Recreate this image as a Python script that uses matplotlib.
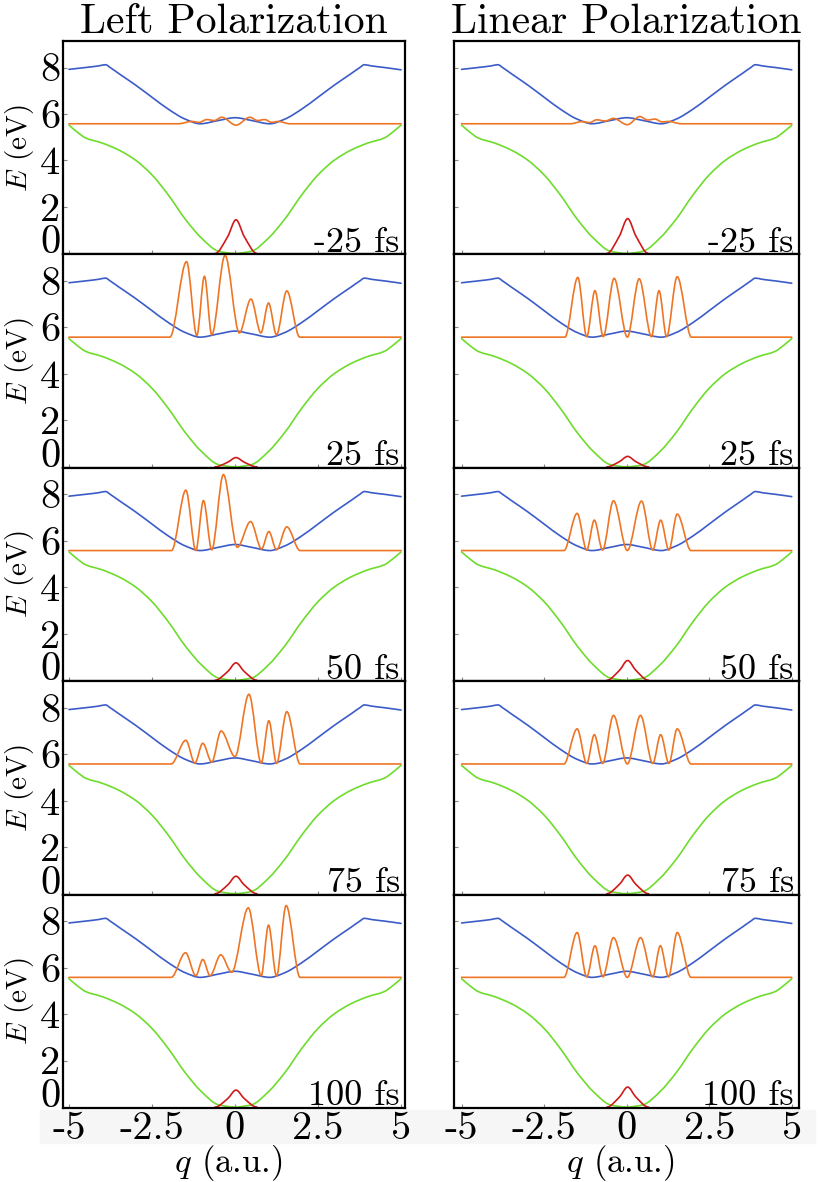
import numpy as np
import matplotlib
matplotlib.use('Agg')
import matplotlib.pyplot as plt
from matplotlib.path import Path
from matplotlib.patches import PathPatch, Rectangle

plt.rcParams['font.family'] = ['cmr10', 'DejaVu Serif']
plt.rcParams['mathtext.fontset'] = 'cm'
plt.rcParams['axes.formatter.use_mathtext'] = True

# potential curves (same in every panel)
green_q = [-5, -4.75, -4.5, -4, -3.5, -3, -2.5, -2, -1.5, -1, -0.5, 0,
           0.5, 1, 1.5, 2, 2.5, 3, 3.5, 4, 4.5, 4.75, 5]
green_E = [5.52, 5.22, 4.97, 4.75, 4.45, 4.02, 3.38, 2.5, 1.48, 0.65, 0.1, 0.0,
           0.1, 0.65, 1.48, 2.5, 3.38, 4.02, 4.45, 4.75, 4.97, 5.22, 5.52]
blue_q = [-5, -4.5, -4.1, -3.9, -3.75, -3.5, -3, -2.5, -2, -1.5, -1.05, -0.5, 0,
          0.5, 1.05, 1.5, 2, 2.5, 3, 3.5, 3.75, 3.9, 4.1, 4.5, 5]
blue_E = [7.92, 8.0, 8.07, 8.12, 7.99, 7.74, 7.25, 6.72, 6.2, 5.78, 5.58, 5.72, 5.84,
          5.72, 5.58, 5.78, 6.2, 6.72, 7.25, 7.74, 7.99, 8.12, 8.07, 8.0, 7.9]
base = 5.58

times = ['-25 fs', '25 fs', '50 fs', '75 fs', '100 fs']

# excited-state packet (orange): extrema read per panel
left_q = [
    [-5, -1.7, -1.3, -1.08, -0.85, -0.62, -0.4, 0.03, 0.45, 0.68, 0.9, 1.1, 1.3, 1.65, 5],
    [-5, -1.96, -1.46, -1.15, -0.92, -0.70, -0.30, 0.13, 0.48, 0.78, 1.01, 1.25, 1.56, 1.95, 5],
    [-5, -1.91, -1.48, -1.18, -0.95, -0.70, -0.35, 0.07, 0.47, 0.80, 1.02, 1.25, 1.56, 1.96, 5],
    [-5, -1.92, -1.48, -1.21, -0.97, -0.70, -0.42, 0.0, 0.42, 0.79, 1.02, 1.25, 1.56, 1.96, 5],
    [-5, -1.92, -1.49, -1.18, -0.97, -0.75, -0.43, -0.1, 0.40, 0.79, 1.01, 1.25, 1.54, 1.96, 5],
]
left_E = [
    [base, base, 5.68, 5.64, 5.76, 5.72, 5.86, 5.52, 5.86, 5.72, 5.76, 5.64, 5.68, base, base],
    [base, base, 8.83, 5.65, 8.2, 5.68, 9.1, 5.76, 7.22, 5.76, 7.05, 5.68, 7.57, base, base],
    [base, base, 8.18, 5.58, 7.73, 5.61, 8.85, 5.72, 6.83, 5.65, 6.4, 5.61, 6.6, base, base],
    [base, base, 6.6, 5.62, 6.47, 5.66, 7.0, 5.9, 8.58, 5.62, 7.44, 5.6, 7.83, base, base],
    [base, base, 6.64, 5.65, 6.35, 5.65, 6.55, 5.8, 8.57, 5.65, 7.83, 5.63, 8.67, base, base],
]
right_q = [
    [-5, -1.7, -1.36, -1.12, -0.91, -0.65, -0.4, 0.02, 0.4, 0.63, 0.86, 1.07, 1.27, 1.65, 5],
    [-5, -1.87, -1.48, -1.21, -0.96, -0.71, -0.38, 0.02, 0.38, 0.75, 0.98, 1.21, 1.53, 1.96, 5],
    [-5, -1.9, -1.50, -1.21, -0.98, -0.73, -0.40, 0.02, 0.45, 0.79, 1.03, 1.28, 1.53, 1.95, 5],
    [-5, -1.9, -1.50, -1.21, -0.98, -0.73, -0.40, 0.02, 0.42, 0.79, 1.03, 1.28, 1.53, 1.95, 5],
    [-5, -1.9, -1.50, -1.21, -0.96, -0.72, -0.40, 0.02, 0.42, 0.79, 1.02, 1.27, 1.53, 1.95, 5],
]
right_E = [
    [base, base, 5.67, 5.63, 5.75, 5.7, 5.81, 5.54, 5.89, 5.74, 5.78, 5.66, 5.68, base, base],
    [base, base, 8.15, 5.6, 7.58, 5.6, 8.11, 5.58, 8.09, 5.6, 7.58, 5.6, 8.18, base, base],
    [base, base, 7.18, 5.6, 6.89, 5.6, 7.72, 5.58, 7.71, 5.6, 6.89, 5.6, 7.15, base, base],
    [base, base, 7.09, 5.6, 6.84, 5.6, 7.67, 5.58, 7.67, 5.6, 6.84, 5.6, 7.09, base, base],
    [base, base, 7.51, 5.6, 6.94, 5.6, 7.29, 5.58, 7.29, 5.6, 6.94, 5.6, 7.51, base, base],
]

# ground-state packet (red): peak heights per panel
red_q = [-0.6, -0.22, 0.03, 0.28, 0.66]
left_red_h = [1.45, 0.4, 0.75, 0.75, 0.73]
right_red_h = [1.5, 0.45, 0.85, 0.8, 0.86]

xticks = [-5, -2.5, 0, 2.5, 5]
xticklabels = ['-5', '-2.5', '0', '2.5', '5']
yticks = [0, 2, 4, 6, 8]
yticklabels = ['0', '2', '4', '6', '8']

c_green = '#6edc2c'
c_blue = '#3b5cc8'
c_orange = '#ee7524'
c_red = '#d01a1a'


def smooth_curve(ax, q, e, color, flat_ends=False, z=2):
    # draw the read points as one smooth bezier path (monotone tangents)
    q = np.asarray(q, float)
    e = np.asarray(e, float)
    h = np.diff(q)
    d = np.diff(e) / h
    m = np.zeros(len(q))
    for k in range(1, len(q) - 1):
        if d[k - 1] * d[k] > 0:
            w1 = 2 * h[k] + h[k - 1]
            w2 = h[k] + 2 * h[k - 1]
            m[k] = (w1 + w2) / (w1 / d[k - 1] + w2 / d[k])
    if not flat_ends:
        m[0] = d[0]
        m[-1] = d[-1]
    verts = [(q[0], e[0])]
    codes = [Path.MOVETO]
    for k in range(len(q) - 1):
        verts += [(q[k] + h[k] / 3, e[k] + m[k] * h[k] / 3),
                  (q[k + 1] - h[k] / 3, e[k + 1] - m[k + 1] * h[k] / 3),
                  (q[k + 1], e[k + 1])]
        codes += [Path.CURVE4] * 3
    ax.add_patch(PathPatch(Path(verts, codes), fill=False, edgecolor=color,
                           lw=1.2, zorder=z, capstyle='round', joinstyle='round'))


W, H = 819, 1182
fig = plt.figure(figsize=(W / 100, H / 100), dpi=100)

# faint band behind the q tick labels
fig.patches.append(Rectangle((40 / W, 1 - 1143 / H), 775 / W, 33 / H,
                             transform=fig.transFigure, color='#f6f6f6', zorder=-5))

cols = [(63, 405, (-5.18, 5.12), left_q, left_E, left_red_h, 'Left Polarization'),
        (454, 799, (-5.23, 5.22), right_q, right_E, right_red_h, 'Linear Polarization')]
top, bottom = 41, 1108
row_h = (bottom - top) / 5

for ci, (x0, x1, xlim, oq, oE, rh, title) in enumerate(cols):
    for r in range(5):
        ytop = top + r * row_h
        ax = fig.add_axes([x0 / W, 1 - (ytop + row_h) / H, (x1 - x0) / W, row_h / H])
        ax.set_xlim(*xlim)
        ax.set_ylim(-0.04, 9.14)

        smooth_curve(ax, green_q, green_E, c_green, z=2)
        smooth_curve(ax, blue_q, blue_E, c_blue, z=3)
        red_E = [0, rh[r] / 2, rh[r], rh[r] / 2, 0]
        smooth_curve(ax, red_q, red_E, c_red, flat_ends=True, z=4)
        smooth_curve(ax, oq[r], oE[r], c_orange, flat_ends=True, z=5)

        ax.set_xticks(xticks)
        ax.set_yticks(yticks)
        ax.tick_params(direction='in', length=3, width=0.8, color='#888888',
                       labelsize=29, pad=2)
        if ci == 0:
            ax.set_yticklabels(yticklabels)
            for lab in ax.get_yticklabels():
                if lab.get_text() == '0':
                    lab.set_verticalalignment('baseline')
            ax.set_ylabel('$E$ (eV)', fontsize=21)
            ax.yaxis.set_label_coords(-0.08, 0.5)
        else:
            ax.set_yticklabels([])
        if r == 4:
            ax.set_xticklabels(xticklabels)
            ax.set_xlabel('$q$ (a.u.)', fontsize=25)
            ax.xaxis.set_label_coords(0.482, -0.165)
        else:
            ax.set_xticklabels([])
        if r == 0:
            ax.set_title(title, fontsize=30, pad=5)

        ax.text(0.985, 0.012, times[r], transform=ax.transAxes, ha='right',
                va='baseline', fontsize=26, zorder=6)
        for s in ax.spines.values():
            s.set_linewidth(1.6)
            s.set_zorder(7)

fig.savefig('out.png', dpi=100)
